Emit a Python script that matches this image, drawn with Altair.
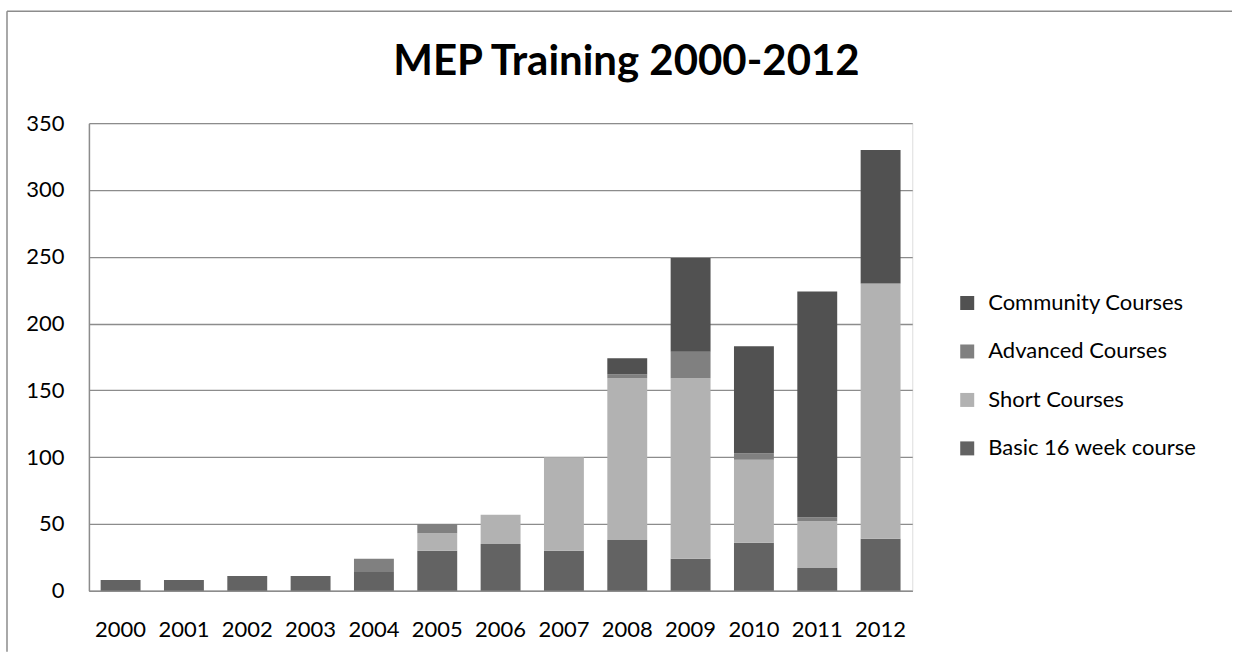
import altair as alt
import pandas as pd

years = [str(y) for y in range(2000, 2013)]
basic = [8, 8, 11, 11, 14, 30, 35, 30, 38, 24, 36, 17, 39]
short = [0, 0, 0, 0, 0, 13, 22, 70, 121, 135, 62, 35, 191]
advanced = [0, 0, 0, 0, 10, 7, 0, 0, 3, 20, 5, 3, 0]
community = [0, 0, 0, 0, 0, 0, 0, 0, 12, 70, 80, 169, 100]

legend_names = ["Community Courses", "Advanced Courses", "Short Courses", "Basic 16 week course"]
legend_colors = ["#515151", "#808080", "#b2b2b2", "#636363"]
y_ticks = [0, 50, 100, 150, 200, 250, 300, 350]
chart_title = "MEP Training 2000-2012"

series = [
    ("Basic 16 week course", basic),
    ("Short Courses", short),
    ("Advanced Courses", advanced),
    ("Community Courses", community),
]

rows = []
for idx, (name, vals) in enumerate(series):
    for yr, v in zip(years, vals):
        if v > 0:
            rows.append({"Year": yr, "Series": name, "Value": v, "order": idx})
df = pd.DataFrame(rows)

FONT = "Lato"

bars = alt.Chart(df).mark_bar().encode(
    x=alt.X(
        "Year:O",
        sort=years,
        title=None,
        scale=alt.Scale(paddingInner=0.37, paddingOuter=0.185),
        axis=alt.Axis(labelAngle=0, ticks=False, grid=False, domainColor="#8c8c8c",
                      domainWidth=1.5, labelPadding=29, labelFontSize=22,
                      labelFont=FONT, labelColor="#000000"),
    ),
    y=alt.Y(
        "Value:Q",
        stack="zero",
        title=None,
        scale=alt.Scale(domain=[0, 350], nice=False),
        axis=alt.Axis(values=y_ticks, ticks=False, grid=True, gridColor="#8c8c8c",
                      gridWidth=1.3, domainColor="#8c8c8c", domainWidth=1.5,
                      labelPadding=25, labelFontSize=22, labelFont=FONT,
                      labelColor="#000000"),
    ),
    color=alt.Color(
        "Series:N",
        scale=alt.Scale(domain=legend_names, range=legend_colors),
        legend=alt.Legend(title=None, orient="none", legendX=868, legendY=169,
                          symbolType="square", symbolSize=196, symbolStrokeWidth=0,
                          symbolOpacity=1, labelFontSize=22, labelFont=FONT,
                          labelColor="#000000", labelOffset=10, rowPadding=26.5,
                          padding=0, labelLimit=0),
    ),
    order=alt.Order("order:Q", sort="ascending"),
)

frame_data = alt.Data(values=[{"k": 1}])
left_line = alt.Chart(frame_data).mark_rule(color="#8c8c8c", strokeWidth=1.5).encode(
    x=alt.value(-82), y=alt.value(-112), y2=alt.value(529)
)
top_line = alt.Chart(frame_data).mark_rule(color="#8c8c8c", strokeWidth=1.5).encode(
    x=alt.value(-82), x2=alt.value(1144), y=alt.value(-112)
)
title_text = alt.Chart(alt.Data(values=[{"t": chart_title}])).mark_text(
    font=FONT, fontSize=42, fontWeight="bold", color="#000000",
    align="center", baseline="alphabetic"
).encode(text="t:N", x=alt.value(538), y=alt.value(-48))

chart = alt.layer(left_line, top_line, title_text, bars).properties(
    width=824,
    height=468,
    padding={"left": 6, "top": 10, "right": 0, "bottom": 0},
).configure_view(strokeWidth=0).configure(background="#ffffff")

chart.save("out.html", embed_options={"renderer": "svg", "actions": False})
